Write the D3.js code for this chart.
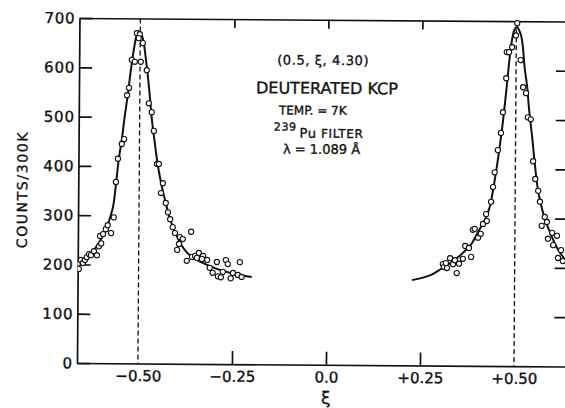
<!DOCTYPE html>
<html>
<head>
<meta charset="utf-8">
<script src="https://cdn.jsdelivr.net/npm/d3@7"></script>
<style>
  body { margin: 0; background: #fff; }
  text { font-family: "DejaVu Sans", sans-serif; fill: #111; stroke: #111; stroke-width: 0.35px; }
</style>
</head>
<body>
<div id="chart"></div>
<script>
// ticks
const xiTicks = [-0.5, -0.25, 0, 0.25, 0.5];
const xiTickLabels = ['\u22120.50', '\u22120.25', '0.0', '+0.25', '+0.50'];
const countTicks = [0, 100, 200, 300, 400, 500, 600, 700];

// measured points, peak at xi = -0.5
const leftXi = [-0.662, -0.659, -0.654, -0.648, -0.643, -0.638, -0.632, -0.627, -0.619, -0.611,
  -0.606, -0.600, -0.603, -0.595, -0.588, -0.583, -0.574, -0.567, -0.562, -0.557,
  -0.547, -0.541, -0.534, -0.529, -0.522, -0.514, -0.509, -0.501, -0.504, -0.493,
  -0.498, -0.482, -0.476, -0.468, -0.462, -0.453, -0.448, -0.442, -0.437, -0.429,
  -0.423, -0.417, -0.410, -0.404, -0.391, -0.383, -0.393, -0.398, -0.361, -0.372,
  -0.358, -0.350, -0.340, -0.329, -0.318, -0.311, -0.303, -0.292, -0.289, -0.281,
  -0.276, -0.268, -0.263, -0.255, -0.249, -0.236, -0.231, -0.226, -0.345, -0.332];
const leftCounts = [201, 191, 209, 203, 209, 215, 221, 219, 227, 219,
  237, 243, 258, 262, 272, 280, 264, 296, 368, 415,
  445, 455, 544, 559, 616, 612, 670, 668, 660, 650,
  612, 595, 528, 510, 472, 405, 405, 346, 366, 326,
  307, 293, 277, 265, 257, 253, 243, 231, 268, 209,
  217, 219, 225, 219, 211, 195, 185, 207, 178, 176,
  187, 211, 203, 174, 185, 181, 207, 177, 215, 213];

// measured points, peak at xi = +0.5
const rightXi = [0.309, 0.312, 0.317, 0.320, 0.328, 0.336, 0.341, 0.346, 0.352, 0.362,
  0.368, 0.378, 0.384, 0.388, 0.393, 0.402, 0.409, 0.415, 0.425, 0.423,
  0.436, 0.441, 0.445, 0.453, 0.461, 0.466, 0.474, 0.475, 0.481, 0.489,
  0.499, 0.502, 0.512, 0.519, 0.527, 0.532, 0.540, 0.547, 0.553, 0.561,
  0.566, 0.579, 0.585, 0.571, 0.599, 0.612, 0.588, 0.602, 0.623, 0.615, 0.628];
const rightCounts = [206, 200, 208, 198, 218, 206, 214, 188, 207, 217,
  243, 239, 221, 276, 278, 260, 268, 288, 294, 308,
  333, 363, 393, 438, 473, 515, 584, 637, 637, 647,
  671, 696, 621, 566, 554, 505, 501, 416, 380, 356,
  334, 303, 293, 285, 271, 265, 259, 246, 236, 220, 214];

// fitted curves as drawn
const leftFitXi = [-0.662, -0.643, -0.624, -0.603, -0.588, -0.579, -0.569, -0.562, -0.555, -0.547,
  -0.540, -0.532, -0.525, -0.517, -0.511, -0.506, -0.501, -0.495, -0.490, -0.485,
  -0.479, -0.473, -0.468, -0.461, -0.453, -0.445, -0.437, -0.429, -0.418, -0.404,
  -0.390, -0.371, -0.350, -0.318, -0.284, -0.244, -0.199];
const leftFitCounts = [199, 211, 225, 248, 270, 290, 318, 362, 413, 455,
  500, 545, 591, 636, 662, 674, 672, 664, 648, 620,
  583, 539, 498, 457, 413, 378, 350, 326, 295, 268,
  245, 225, 213, 201, 191, 183, 177];
const rightFitXi = [0.227, 0.275, 0.304, 0.336, 0.362, 0.386, 0.402, 0.421, 0.433, 0.441,
  0.451, 0.459, 0.467, 0.474, 0.481, 0.486, 0.491, 0.496, 0.502, 0.507,
  0.513, 0.518, 0.523, 0.530, 0.535, 0.544, 0.552, 0.560, 0.571, 0.582,
  0.594, 0.607, 0.621, 0.637];
const rightFitCounts = [173, 183, 196, 212, 229, 249, 272, 298, 324, 357,
  406, 452, 503, 556, 613, 648, 672, 684, 688, 682,
  670, 645, 604, 566, 523, 465, 408, 360, 321, 293,
  271, 248, 230, 214];

const width = 565, height = 408;
const plotLeft = 77, plotRight = 567, plotTop = 18, plotBottom = 363;

const svg = d3.select('#chart')
  .append('svg')
  .attr('width', width)
  .attr('height', height);

// the scan sits slightly tilted
const g = svg.append('g')
  .attr('transform', `rotate(0.41,${plotLeft},${plotBottom})`);

const x = d3.scaleLinear().domain([-0.662, 0.641]).range([plotLeft, plotRight]);
const y = d3.scaleLinear().domain([0, 700]).range([plotBottom, plotTop]);

g.append('clipPath').attr('id', 'plot')
  .append('rect')
  .attr('x', plotLeft).attr('y', plotTop - 4)
  .attr('width', plotRight - plotLeft).attr('height', plotBottom - plotTop + 4);

// axes
const axisStyle = sel => {
  sel.selectAll('path, line').attr('stroke', '#111').attr('stroke-width', 1.7);
  sel.selectAll('text')
    .attr('font-family', '"DejaVu Sans", sans-serif')
    .attr('font-size', 15);
};

g.append('g')
  .attr('transform', `translate(${plotLeft},0)`)
  .call(d3.axisLeft(y).tickValues(countTicks).tickSize(-13).tickSizeOuter(0).tickPadding(4))
  .call(axisStyle)
  .call(s => s.selectAll('text').attr('letter-spacing', 0.8));

g.append('g')
  .attr('transform', `translate(${plotRight},0)`)
  .call(d3.axisRight(y).tickValues(countTicks.slice(1, -1)).tickSize(-13).tickSizeOuter(0).tickFormat(''))
  .call(axisStyle);

g.append('g')
  .attr('transform', `translate(0,${plotTop})`)
  .call(d3.axisTop(x).tickValues([-0.25, 0, 0.25]).tickSize(-9).tickSizeOuter(0).tickFormat(''))
  .call(axisStyle);

const xAxis = g.append('g')
  .attr('transform', `translate(0,${plotBottom})`)
  .call(d3.axisBottom(x).tickValues(xiTicks).tickSize(-13).tickSizeOuter(0).tickPadding(7)
    .tickFormat((d, i) => xiTickLabels[i]))
  .call(axisStyle);
xAxis.selectAll('.tick').filter(d => Math.abs(d) === 0.5).select('line').remove();

// dashed lines at the peak positions
g.selectAll('.peak')
  .data([-0.5, 0.5])
  .join('line')
    .attr('class', 'peak')
    .attr('x1', d => x(d)).attr('x2', d => x(d))
    .attr('y1', y(700)).attr('y2', y(0))
    .attr('stroke', '#111')
    .attr('stroke-width', 1.3)
    .attr('stroke-dasharray', '5,3');

// fitted curves
const line = d3.line()
  .x(d => x(d[0]))
  .y(d => y(d[1]))
  .curve(d3.curveCatmullRom.alpha(0.5));

const fits = [
  d3.zip(leftFitXi, leftFitCounts),
  d3.zip(rightFitXi, rightFitCounts)
];

g.append('g').attr('clip-path', 'url(#plot)')
  .selectAll('path')
  .data(fits)
  .join('path')
    .attr('d', line)
    .attr('fill', 'none')
    .attr('stroke', '#111')
    .attr('stroke-width', 2);

// measured points
const points = d3.zip(leftXi, leftCounts).concat(d3.zip(rightXi, rightCounts));

g.append('g').attr('clip-path', 'url(#plot)')
  .selectAll('circle')
  .data(points)
  .join('circle')
    .attr('cx', d => x(d[0]))
    .attr('cy', d => y(d[1]))
    .attr('r', 2.6)
    .attr('fill', '#fff')
    .attr('stroke', '#111')
    .attr('stroke-width', 1.1);

// axis titles
g.append('text')
  .attr('transform', 'translate(26,190) rotate(-90)')
  .attr('text-anchor', 'middle')
  .attr('font-size', 14)
  .attr('letter-spacing', 1.6)
  .text('COUNTS/300K');

g.append('text')
  .attr('x', x(0))
  .attr('y', 402)
  .attr('text-anchor', 'middle')
  .attr('font-size', 17)
  .text('\u03be');

// annotation block
const note = g.append('g').attr('text-anchor', 'middle');
note.append('text').attr('x', 321).attr('y', 63).attr('font-size', 13).attr('letter-spacing', 0.6)
  .text('(0.5, \u03be, 4.30)');
note.append('text').attr('x', 325).attr('y', 92).attr('font-size', 16)
  .text('DEUTERATED KCP');
note.append('text').attr('x', 311).attr('y', 113).attr('font-size', 12)
  .text('TEMP. = 7K');
const filt = note.append('text').attr('x', 317).attr('y', 136).attr('font-size', 12)
  .attr('letter-spacing', 0.6);
filt.append('tspan').attr('font-size', 11).attr('dy', -7).text('239');
filt.append('tspan').attr('font-size', 13).attr('dy', 7).attr('dx', 3).text('Pu');
filt.append('tspan').text(' FILTER');
note.append('text').attr('x', 320).attr('y', 152).attr('font-size', 13)
  .text('\u03bb = 1.089 \u00c5');
</script>
</body>
</html>
